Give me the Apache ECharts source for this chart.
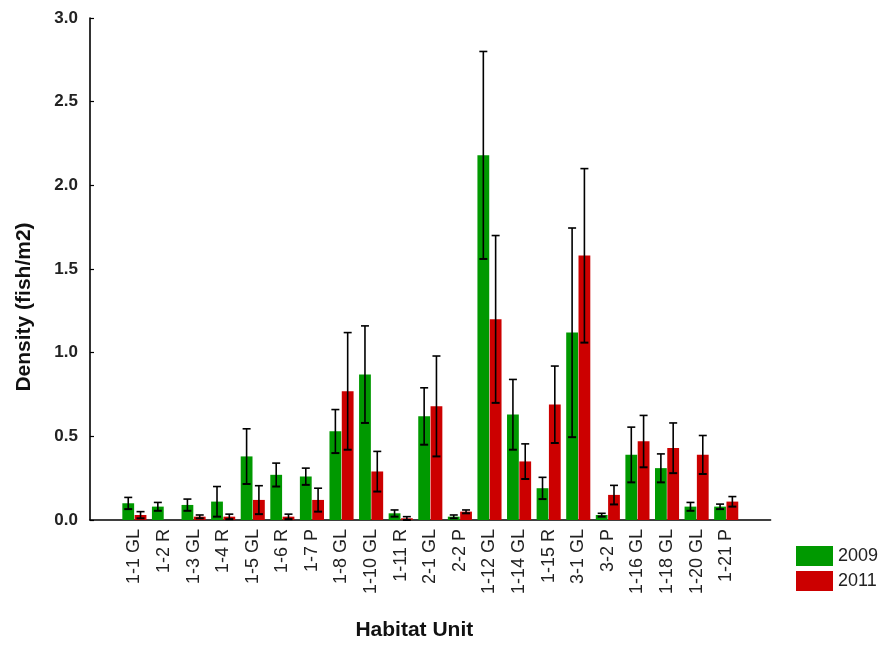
<!DOCTYPE html>
<html>
<head>
<meta charset="utf-8">
<script src="https://cdn.jsdelivr.net/npm/echarts@6/dist/echarts.min.js"></script>
<style>
  html, body { margin: 0; padding: 0; background: #fff; }
  #chart { width: 883px; height: 646px; }
</style>
</head>
<body>
<div id="chart"></div>
<script>
// Habitat units along the x axis
var units = ['1-1 GL', '1-2 R', '1-3 GL', '1-4 R', '1-5 GL', '1-6 R', '1-7 P',
  '1-8 GL', '1-10 GL', '1-11 R', '2-1 GL', '2-2 P', '1-12 GL', '1-14 GL',
  '1-15 R', '3-1 GL', '3-2 P', '1-16 GL', '1-18 GL', '1-20 GL', '1-21 P'];

// Mean density (fish/m2) per unit
var density2009 = [0.10, 0.08, 0.09, 0.11, 0.38, 0.27, 0.26, 0.53, 0.87, 0.04, 0.62,
  0.02, 2.18, 0.63, 0.19, 1.12, 0.03, 0.39, 0.31, 0.08, 0.08];
var density2011 = [0.03, null, 0.02, 0.02, 0.12, 0.02, 0.12, 0.77, 0.29, 0.01, 0.68,
  0.05, 1.20, 0.35, 0.69, 1.58, 0.15, 0.47, 0.43, 0.39, 0.11];

// Error (± half-range of the whisker)
var err2009 = [0.035, 0.025, 0.035, 0.09, 0.165, 0.07, 0.05, 0.13, 0.29, 0.02, 0.17,
  0.01, 0.62, 0.21, 0.065, 0.625, 0.01, 0.165, 0.085, 0.025, 0.015];
var err2011 = [0.02, null, 0.01, 0.015, 0.085, 0.015, 0.07, 0.35, 0.12, 0.01, 0.30,
  0.01, 0.50, 0.105, 0.23, 0.52, 0.057, 0.155, 0.15, 0.115, 0.03];

// Y axis tick values
var yTicks = [0, 0.5, 1.0, 1.5, 2.0, 2.5, 3.0];

var GREEN = '#009900';
var RED = '#cc0000';
var BAR_W = 11.8;
var GAP = 0.5;

// One empty slot on each side of the units keeps the bars off the axis ends
var axisCats = [''].concat(units, ['']);
function padded(arr) { return [null].concat(arr, [null]); }

// Rows of [slot index on the padded axis, mean, error]
function errorData(means, errs) {
  var out = [];
  means.forEach(function (m, i) {
    if (m != null && errs[i] != null) out.push([i + 1, m, errs[i]]);
  });
  return out;
}

function errorSeries(name, means, errs, side) {
  return {
    type: 'custom',
    name: name,
    data: errorData(means, errs),
    z: 5,
    renderItem: function (params, api) {
      var idx = api.value(0), m = api.value(1), e = api.value(2);
      var lo = Math.max(0, m - e), hi = m + e;
      var pTop = api.coord([idx, hi]);
      var pBot = api.coord([idx, lo]);
      var x = pTop[0] + side * (BAR_W / 2 + GAP / 2);
      var cap = 4;
      var style = { stroke: '#000', lineWidth: 1.6 };
      return {
        type: 'group',
        children: [
          { type: 'line', shape: { x1: x, y1: pTop[1], x2: x, y2: pBot[1] }, style: style },
          { type: 'line', shape: { x1: x - cap, y1: pTop[1], x2: x + cap, y2: pTop[1] }, style: style },
          { type: 'line', shape: { x1: x - cap, y1: pBot[1], x2: x + cap, y2: pBot[1] }, style: { stroke: '#000', lineWidth: 2 } }
        ]
      };
    }
  };
}

var chart = echarts.init(document.getElementById('chart'));
chart.setOption({
  animation: false,
  backgroundColor: '#ffffff',
  textStyle: { fontFamily: 'Liberation Sans, Arial, sans-serif' },
  grid: { left: 90, top: 18, width: 680.6, height: 503 },
  legend: {
    data: ['2009', '2011'],
    orient: 'vertical',
    left: 791,
    top: 541,
    itemWidth: 37,
    itemHeight: 20,
    itemGap: 5,
    icon: 'rect',
    textStyle: { fontSize: 18, color: '#222' }
  },
  xAxis: {
    type: 'category',
    data: axisCats,
    name: 'Habitat Unit',
    nameLocation: 'middle',
    nameGap: 100,
    nameTextStyle: { fontSize: 21, fontWeight: 'bold', color: '#111', padding: [0, 32, 0, 0] },
    axisLine: { lineStyle: { color: '#000', width: 1.6 } },
    axisTick: { show: false },
    axisLabel: { interval: 0, rotate: 90, fontSize: 18, color: '#222', margin: 9 },
    splitLine: { show: false }
  },
  yAxis: {
    type: 'value',
    min: yTicks[0],
    max: yTicks[yTicks.length - 1],
    interval: yTicks[1] - yTicks[0],
    name: 'Density (fish/m2)',
    nameLocation: 'middle',
    nameRotate: 90,
    nameGap: 55,
    nameTextStyle: { fontSize: 21, fontWeight: 'bold', color: '#111', padding: [0, 76, 0, 0] },
    axisLine: { show: true, lineStyle: { color: '#000', width: 1.6 } },
    axisTick: { show: true, inside: true, length: 4, lineStyle: { color: '#000', width: 1.2 } },
    axisLabel: {
      fontSize: 17, fontWeight: 'bold', color: '#222', margin: 12,
      formatter: function (v) { return v.toFixed(1); }
    },
    splitLine: { show: false }
  },
  series: [
    {
      type: 'bar', name: '2009', data: padded(density2009),
      barWidth: BAR_W, barGap: (GAP / BAR_W * 100) + '%',
      itemStyle: { color: GREEN }
    },
    {
      type: 'bar', name: '2011', data: padded(density2011),
      barWidth: BAR_W, barGap: (GAP / BAR_W * 100) + '%',
      itemStyle: { color: RED }
    },
    errorSeries('err2009', density2009, err2009, -1),
    errorSeries('err2011', density2011, err2011, 1)
  ]
});
</script>
</body>
</html>
